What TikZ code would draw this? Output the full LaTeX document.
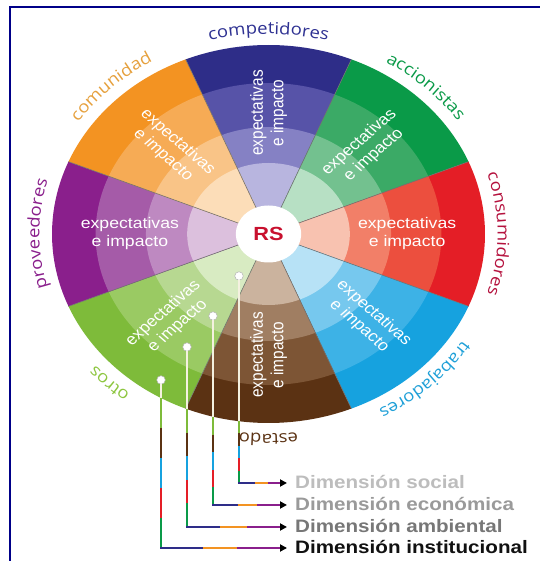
\documentclass[tikz,border=0pt]{standalone}
\usepackage{fontspec}
\setmainfont{Liberation Sans}
\newfontfamily\lblfont[FakeStretch=1.12]{Open Sans}
\usetikzlibrary{decorations.text,arrows.meta,calc}

\definecolor{frameblue}{HTML}{000088}
\definecolor{bA}{HTML}{2E2D88}\definecolor{bB}{HTML}{5753A8}\definecolor{bC}{HTML}{8581C4}\definecolor{bD}{HTML}{B8B5DF}
\definecolor{gA}{HTML}{0A9A48}\definecolor{gB}{HTML}{3BAA66}\definecolor{gC}{HTML}{73C18F}\definecolor{gD}{HTML}{B7E0C4}
\definecolor{rA}{HTML}{E41E26}\definecolor{rB}{HTML}{EC4F3E}\definecolor{rC}{HTML}{F27F68}\definecolor{rD}{HTML}{F8C2B0}
\definecolor{tA}{HTML}{16A2DF}\definecolor{tB}{HTML}{3DB2E6}\definecolor{tC}{HTML}{76C8EE}\definecolor{tD}{HTML}{B7E2F6}
\definecolor{eA}{HTML}{5B3213}\definecolor{eB}{HTML}{7D5535}\definecolor{eC}{HTML}{A07E62}\definecolor{eD}{HTML}{CBB39E}
\definecolor{oA}{HTML}{7EBB3A}\definecolor{oB}{HTML}{9ACA63}\definecolor{oC}{HTML}{B7D891}\definecolor{oD}{HTML}{D8EBC2}
\definecolor{pA}{HTML}{8A1F8C}\definecolor{pB}{HTML}{A55BA8}\definecolor{pC}{HTML}{BE89C1}\definecolor{pD}{HTML}{DCC0DD}
\definecolor{cA}{HTML}{F39322}\definecolor{cB}{HTML}{F6AB55}\definecolor{cC}{HTML}{F9C487}\definecolor{cD}{HTML}{FCDDB8}
\definecolor{rsred}{HTML}{C8102E}
\definecolor{lcomp}{HTML}{2E3192}
\definecolor{lacc}{HTML}{0A9A48}
\definecolor{lcons}{HTML}{B5123E}
\definecolor{ltrab}{HTML}{1FA0D8}
\definecolor{lest}{HTML}{5B3213}
\definecolor{lotros}{HTML}{8DC63F}
\definecolor{lprov}{HTML}{8A1F8C}
\definecolor{lcomu}{HTML}{E6A03C}
\definecolor{cream}{HTML}{F4F1E0}
\definecolor{dsoc}{HTML}{BDBDBD}
\definecolor{deco}{HTML}{9A9A9A}
\definecolor{damb}{HTML}{777777}
\definecolor{dins}{HTML}{111111}

\tikzset{
  sepline/.style={draw=black!55, line width=0.6pt},
  intext/.style={text=white, align=center, transform shape, inner sep=0pt,
    font=\fontsize{15.4}{18}\selectfont},
  dotnode/.style={circle, fill=white, draw=black!30, line width=0.5pt, inner sep=0pt, minimum size=8.5pt},
  cline/.style={line width=2pt},
  dimtext/.style={font=\bfseries\fontsize{18}{18}\selectfont, xscale=1.1455, anchor=base west, inner sep=0pt}
}

\newcommand{\wheellabel}[3]{%
  \path[decorate, decoration={text along path, text align=center, text color=#2,
    text={|\lblfont\fontsize{16.5}{16.5}\selectfont|#3}}]
    (#1+45:200) arc[start angle=#1+45, end angle=#1-45, radius=200pt];}

\newcommand{\dimconn}[8]{% name, x, dotY, edgeY, cornerY, color, text, baselineY
  \node[dotnode] (d#1) at (#2,#3) {};
  \coordinate (e#1) at (#2,#4);
  \coordinate (c#1) at (#2,#5);
  \coordinate (a#1) at (287,#5);
  \node[dimtext, text=#6] (t#1) at (295,#8) {#7};
  \draw[cline, cream] (d#1) -- (e#1);
  \draw[cline, oA] (e#1) -- ($(e#1)!0.2!(c#1)$);
  \draw[cline, eA] ($(e#1)!0.2!(c#1)$) -- ($(e#1)!0.4!(c#1)$);
  \draw[cline, tA] ($(e#1)!0.4!(c#1)$) -- ($(e#1)!0.6!(c#1)$);
  \draw[cline, rA] ($(e#1)!0.6!(c#1)$) -- ($(e#1)!0.8!(c#1)$);
  \draw[cline, gA] ($(e#1)!0.8!(c#1)$) -- ($(c#1)+(0,-1)$);
  \draw[cline, bA] ($(c#1)+(-1,0)$) -- ($(c#1)!0.333!(a#1)$);
  \draw[cline, cA] ($(c#1)!0.333!(a#1)$) -- ($(c#1)!0.6!(a#1)$);
  \draw[cline, pA, -{Triangle[length=7pt, width=7pt, color=black]}] ($(c#1)!0.6!(a#1)$) -- (a#1);
}

\begin{document}
\begin{tikzpicture}[x=1pt, y=1pt]
\useasboundingbox (0,0) rectangle (540,561);
\fill[white] (0,0) rectangle (540,561);
\draw[frameblue, line width=2.2pt] (10,0) -- (10,554) -- (540,554);

\begin{scope}[shift={(268.5,327)}, xscale=1.1455]
  \foreach \ang/\k in {90/b,45/g,0/r,-45/t,-90/e,-135/o,180/p,135/c}{
    \pgfmathsetmacro{\sa}{\ang-22.5}
    \pgfmathsetmacro{\ea}{\ang+22.5}
    \foreach \r/\s in {189/A,151/B,107/C,71/D}{
      \fill[fill=\k\s] (0,0) -- (\sa:\r) arc[start angle=\sa, end angle=\ea, radius=\r pt] -- cycle;
    }
  }
  \foreach \ang in {22.5,67.5,...,337.5}
    \draw[sepline] (0,0) -- (\ang:189);
  \fill[white] (0,0) circle[radius=28.5pt];
  \node[text=rsred, font=\bfseries\fontsize{19}{19}\selectfont, transform shape] (rs) at (0,0) {RS};
  \foreach \ang/\rot/\k in {90/90/b,45/45/g,0/0/r,-45/-45/t,-90/90/e,-135/45/o,180/0/p,135/-45/c}
    \node[intext, rotate=\rot] (x\k) at (\ang:121) {expectativas\\e impacto};

  \wheellabel{90}{lcomp}{competidores}
  \wheellabel{45}{lacc}{accionistas}
  \wheellabel{0}{lcons}{consumidores}
  \wheellabel{-45}{ltrab}{trabajadores}
  \wheellabel{-90}{lest}{estado}
  \wheellabel{-135}{lotros}{otros}
  \wheellabel{180}{lprov}{proveedores}
  \wheellabel{135}{lcomu}{comunidad}
\end{scope}

\dimconn{s}{239}{285}{140}{78}{dsoc}{Dimensión social}{72}
\dimconn{e}{213}{245}{144}{56}{deco}{Dimensión económica}{50}
\dimconn{a}{187}{214}{152}{34}{damb}{Dimensión ambiental}{28}
\dimconn{i}{161}{181}{163}{13}{dins}{Dimensión institucional}{7}
\end{tikzpicture}
\end{document}
